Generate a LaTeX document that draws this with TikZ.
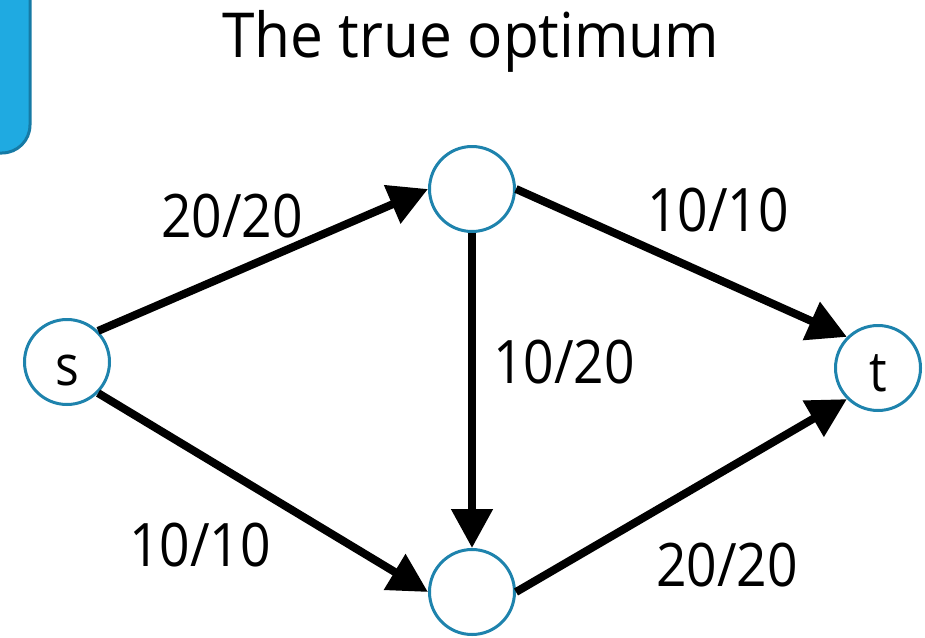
\documentclass[tikz,border=0pt]{standalone}
\usepackage{fontspec}
\setmainfont{Open Sans}
\newfontfamily\lblfont{Open Sans}[FakeStretch=0.89]
\newfontfamily\titlefont{Open Sans}[FakeStretch=0.945]
\usetikzlibrary{arrows.meta}
\definecolor{boxfill}{RGB}{31,170,225}
\definecolor{boxline}{RGB}{22,122,165}
\definecolor{ringcol}{RGB}{30,131,173}
\tikzset{
  vtx/.style={circle, draw=ringcol, line width=3pt, fill=white, minimum size=85pt, inner sep=0pt, text height=46pt, text depth=0pt, font=\lblfont\fontsize{56}{64}\selectfont},
  edge/.style={line width=8pt, -{Triangle[length=39pt,width=40pt]}},
  lbl/.style={inner sep=0pt, font=\lblfont\fontsize{60}{72}\selectfont},
}
\begin{document}
\begin{tikzpicture}[x=1pt,y=-1pt]
\useasboundingbox (0,0) rectangle (925,637);
\clip (0,0) rectangle (925,637);
\draw[fill=boxfill, draw=boxline, line width=3pt, rounded corners=28pt] (-80,-80) rectangle (30,153);
\node[anchor=base, inner sep=0pt, font=\titlefont\fontsize{62}{74}\selectfont] (title) at (471,57) {The true optimum};
\node[vtx] (s) at (67,362) {s};
\node[vtx] (a) at (472,189) {};
\node[vtx] (b) at (472,592) {};
\node[vtx] (t) at (878,368) {t};
\draw[edge] (s.45) -- (a.west);
\draw[edge] (s.-45) -- (b.west);
\draw[edge] (a.south) -- (b.north);
\draw[edge] (a.east) -- (t.135);
\draw[edge] (b.east) -- (t.-135);
\node[lbl] (l1) at (232,216) {20/20};
\node[lbl] (l2) at (718,210) {10/10};
\node[lbl] (l3) at (564,362) {10/20};
\node[lbl] (l4) at (200,545) {10/10};
\node[lbl] (l5) at (727,565) {20/20};
\end{tikzpicture}
\end{document}
